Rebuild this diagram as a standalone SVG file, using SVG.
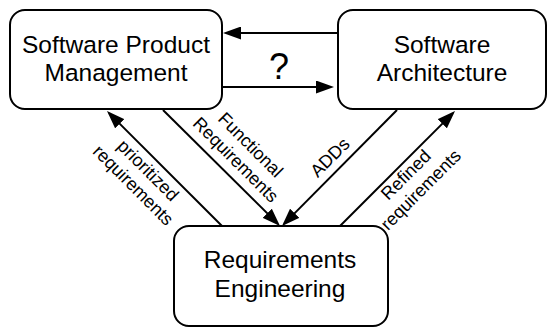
<svg xmlns="http://www.w3.org/2000/svg" width="548" height="328" viewBox="0 0 548 328">
<defs>
<marker id="ah" markerUnits="userSpaceOnUse" markerWidth="18" markerHeight="13" refX="15" refY="6.5" orient="auto">
<path d="M0,0 L18,6.5 L0,13 z" fill="#000"/>
</marker>
<style>
.box{fill:#fff;stroke:#000;stroke-width:2}
.t{font-family:"Liberation Sans",Arial,sans-serif;font-size:24.5px;text-anchor:middle;fill:#000}
.l{font-family:"Liberation Sans",Arial,sans-serif;font-size:18px;text-anchor:middle;fill:#000}
.c{stroke:#000;stroke-width:2;fill:none;marker-end:url(#ah)}
</style>
</defs>
<rect width="548" height="328" fill="#fff"/>
<g id="connectors">
<line class="c" x1="338" y1="33" x2="226" y2="33"/>
<line class="c" x1="222" y1="87" x2="331" y2="87"/>
<text class="t" x="279" y="79" style="font-size:36px">?</text>
<line class="c" x1="222" y1="226" x2="109.1" y2="113.1"/>
<line class="c" x1="163" y1="110" x2="277.9" y2="223.9"/>
<line class="c" x1="397" y1="110" x2="284.1" y2="223.9"/>
<line class="c" x1="340" y1="226" x2="452.9" y2="113.1"/>
<text class="l" transform="translate(141,177.5) rotate(45)"><tspan x="0" y="-4">prioritized</tspan><tspan x="0" y="17">requirements</tspan></text>
<text class="l" transform="translate(243.5,152) rotate(45)"><tspan x="0" y="-4">Functional</tspan><tspan x="0" y="17">Requirements</tspan></text>
<text class="l" transform="translate(330,157.5) rotate(-45)"><tspan x="0" y="6">ADDs</tspan></text>
<text class="l" transform="translate(413,182) rotate(-45)"><tspan x="0" y="-4">Refined</tspan><tspan x="0" y="17">requirements</tspan></text>
</g>
<g id="spm">
<rect class="box" x="10" y="10" width="212" height="99" rx="15"/>
<text class="t" x="116" y="53">Software Product</text>
<text class="t" x="116" y="81">Management</text>
</g>
<g id="sa">
<rect class="box" x="338" y="10" width="208" height="99" rx="15"/>
<text class="t" x="442" y="53">Software</text>
<text class="t" x="442" y="81">Architecture</text>
</g>
<g id="re">
<rect class="box" x="174" y="226" width="214" height="100" rx="15"/>
<text class="t" x="280" y="268">Requirements</text>
<text class="t" x="280" y="297">Engineering</text>
</g>
</svg>
